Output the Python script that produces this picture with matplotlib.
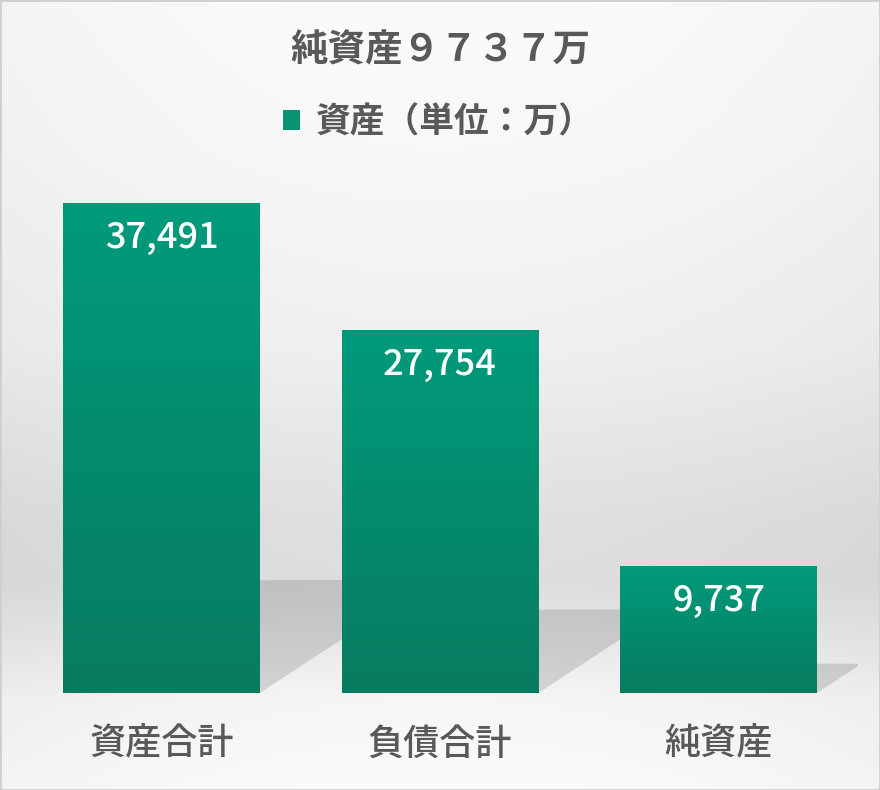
import matplotlib
matplotlib.use("Agg")
import matplotlib.pyplot as plt
from matplotlib.patches import Polygon, Rectangle
import numpy as np

plt.rcParams["font.family"] = ["Noto Sans CJK JP", "DejaVu Sans"]

categories = ["資産合計", "負債合計", "純資産"]
values = [37491, 27754, 9737]
value_labels = ["37,491", "27,754", "9,737"]
title = "純資産９７３７万"
legend_label = "資産（単位：万）"

W, H = 880, 790
fig = plt.figure(figsize=(W / 100, H / 100), dpi=100)

# background: light gray band behind the bars, white top and floor
bg = fig.add_axes([0, 0, 1, 1], zorder=-10)
yy = np.arange(H)
stops_y = [0, 150, 350, 520, 580, 640, 700, 790]
stops_v = [251, 248, 240, 224, 222, 233, 246, 251]
col = np.interp(yy, stops_y, stops_v)
xx = np.arange(W)
edge = ((xx - W / 2) / (W / 2)) ** 2 * 7
img = col[:, None] - edge[None, :]
img = np.clip(img, 0, 255) / 255.0
bg.imshow(np.dstack([img, img, img]), extent=[0, W, H, 0], aspect="auto")
bg.set_xlim(0, W)
bg.set_ylim(H, 0)
bg.axis("off")

ax_left, ax_bottom = 22.25, 97
ax_w, ax_h = 835.5, 523
ymax = 40000
ax = fig.add_axes([ax_left / W, ax_bottom / H, ax_w / W, ax_h / H])
ax.set_facecolor("none")
ax.set_xlim(-0.5, 2.5)
ax.set_ylim(0, ymax)
ax.axis("off")

x = np.arange(len(categories))
bw = 0.707
bars = ax.bar(x, values, width=bw, color="#0a9373", label=legend_label, zorder=3)

px_per_cat = ax_w / 3
px_per_val = ax_h / ymax

# perspective shadows behind each bar
for b in bars:
    h = b.get_height()
    x0 = b.get_x()
    x1 = x0 + b.get_width()
    dx = 0.35 * h * px_per_val / px_per_cat
    sh = 0.23 * h
    poly = Polygon([(x0, 0), (x1, 0), (x1 + dx, sh), (x0 + dx, sh)],
                   closed=True, facecolor="black", alpha=0.13,
                   edgecolor="none", zorder=1)
    ax.add_patch(poly)

# vertical gradient on the bars
top = np.array([0, 155, 123]) / 255
bot = np.array([8, 123, 96]) / 255
grad = np.linspace(0, 1, 256)[:, None]
gimg = top[None, None, :] * (1 - grad[:, :, None]) + bot[None, None, :] * grad[:, :, None]
for b in bars:
    im = ax.imshow(gimg, extent=[b.get_x(), b.get_x() + b.get_width(), 0, b.get_height()],
                   origin="upper", aspect="auto", zorder=4)
    im.set_clip_path(b)
ax.set_xlim(-0.5, 2.5)
ax.set_ylim(0, ymax)

for i, v in enumerate(values):
    ax.annotate(value_labels[i], xy=(i, v), xytext=(0, -25), textcoords="offset points",
                ha="center", va="center", color="white", fontsize=26,
                fontweight="medium", zorder=6)
    ax.annotate(categories[i], xy=(i, 0), xytext=(0, -37), textcoords="offset points",
                ha="center", va="center", color="#595959", fontsize=26,
                fontweight="medium", zorder=6, annotation_clip=False)

fig.text(0.5, 1 - 50 / H, title, ha="center", va="center", fontsize=27,
         color="#595959", fontweight="bold")

fig.legend(handles=[bars], labels=[legend_label], loc="center",
           bbox_to_anchor=(438 / W, 1 - 122 / H), frameon=False,
           labelcolor="#595959", handlelength=0.5, handleheight=0.5,
           handletextpad=0.45, prop={"weight": "bold", "size": 25})

fig.patches.append(Rectangle((0, 0), 1, 1, transform=fig.transFigure, fill=False,
                             edgecolor="#cfcfcf", linewidth=2, zorder=20))

fig.savefig("out.png", dpi=100)
